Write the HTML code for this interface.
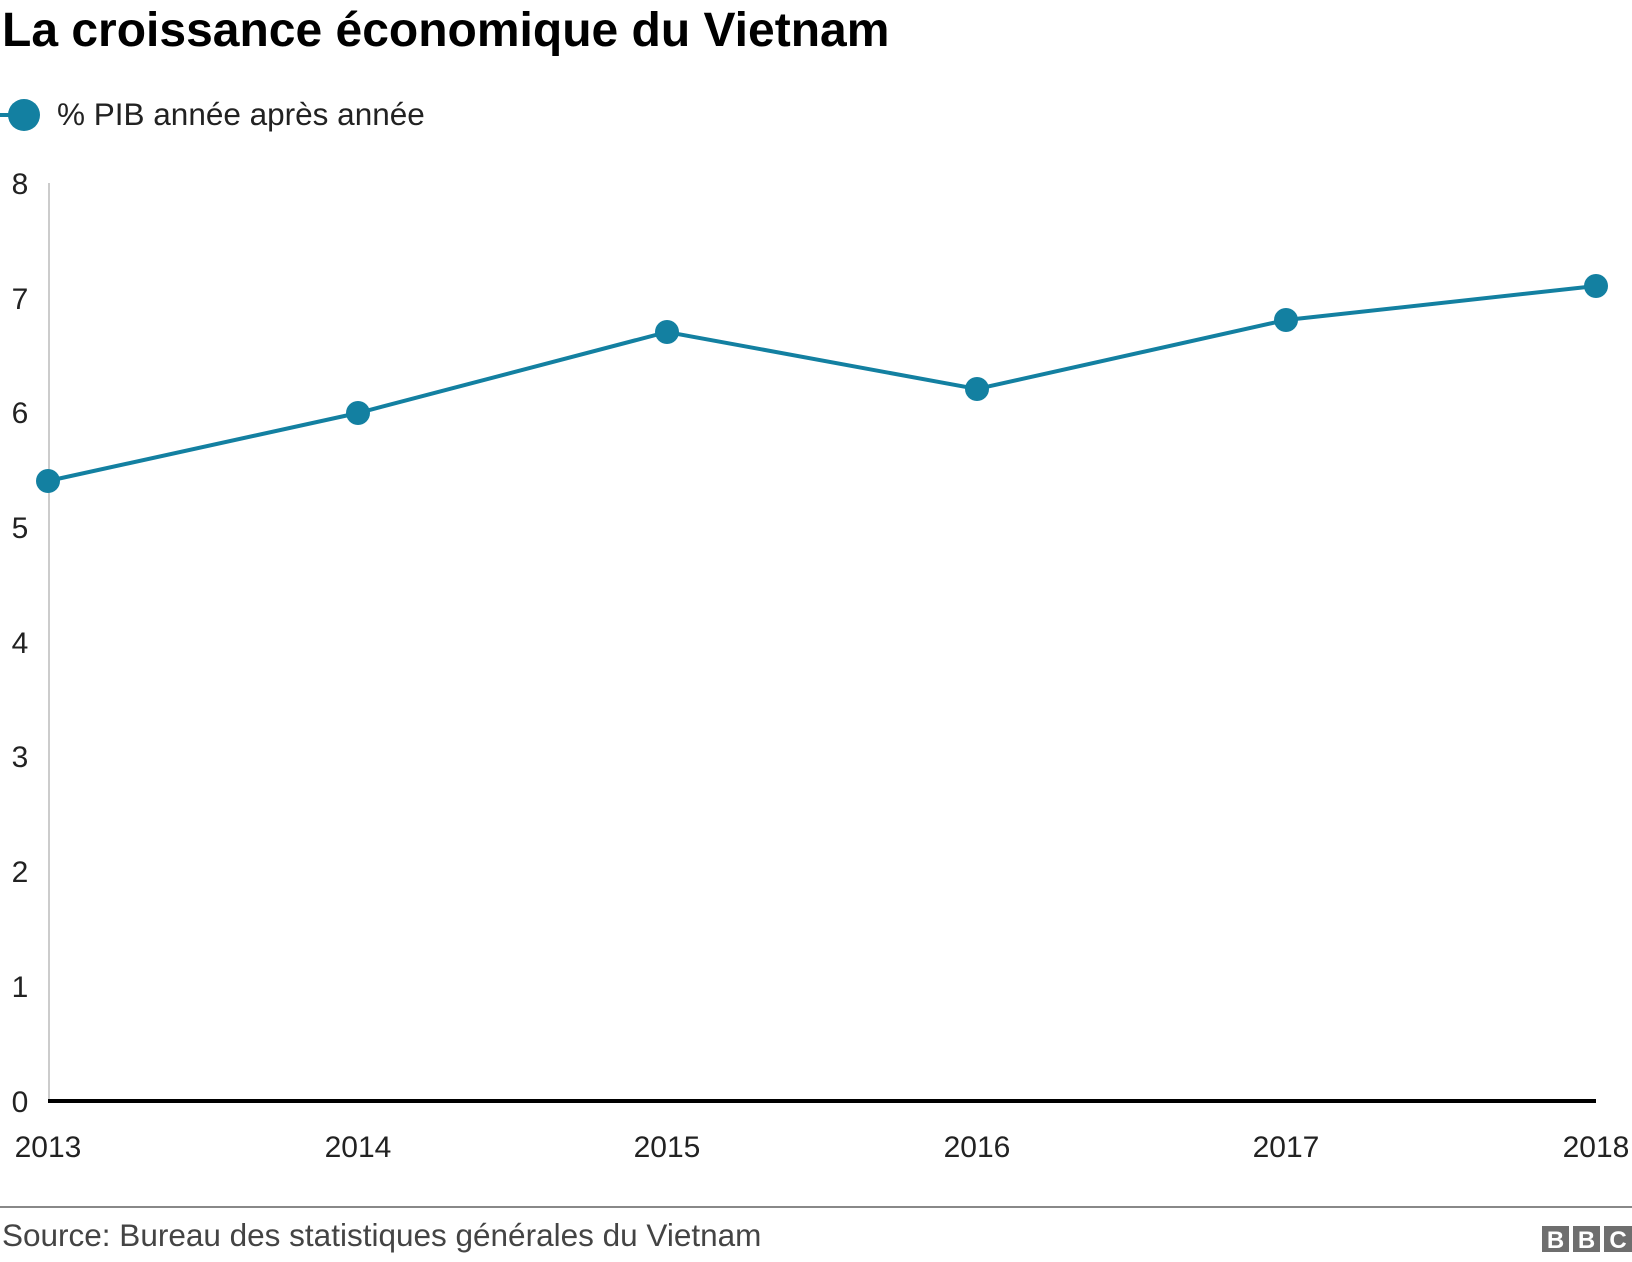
<!DOCTYPE html>
<html><head><meta charset="utf-8"><style>
body{margin:0;background:#fff;}
svg{display:block;font-family:"Liberation Sans",Arial,sans-serif;}
</style></head><body>
<svg width="1632" height="1262" viewBox="0 0 1632 1262">
<text x="2" y="46" font-size="48" font-weight="bold" fill="#000">La croissance économique du Vietnam</text>
<line x1="0" y1="115" x2="20" y2="115" stroke="#1380A1" stroke-width="4"/>
<circle cx="24" cy="115" r="16" fill="#1380A1"/>
<text x="57" y="125" font-size="31.5" fill="#222">% PIB année après année</text>
<line x1="49" y1="183" x2="49" y2="1101" stroke="#ccc" stroke-width="2"/>
<g font-size="30" fill="#222" text-anchor="middle">
<text x="20" y="194">8</text>
<text x="20" y="309">7</text>
<text x="20" y="423">6</text>
<text x="20" y="538">5</text>
<text x="20" y="653">4</text>
<text x="20" y="767">3</text>
<text x="20" y="882">2</text>
<text x="20" y="997">1</text>
<text x="20" y="1112">0</text>
<text x="48" y="1157">2013</text>
<text x="358" y="1157">2014</text>
<text x="667" y="1157">2015</text>
<text x="977" y="1157">2016</text>
<text x="1286" y="1157">2017</text>
<text x="1596" y="1157">2018</text>
</g>
<line x1="48" y1="1101" x2="1596" y2="1101" stroke="#000" stroke-width="4"/>
<polyline fill="none" stroke="#1380A1" stroke-width="4" points="48,481 358,413 667,332 977,389 1286,320 1596,286"/>
<g fill="#1380A1">
<circle cx="48" cy="481" r="12"/><circle cx="358" cy="413" r="12"/><circle cx="667" cy="332" r="12"/>
<circle cx="977" cy="389" r="12"/><circle cx="1286" cy="320" r="12"/><circle cx="1596" cy="286" r="12"/>
</g>
<line x1="0" y1="1207" x2="1632" y2="1207" stroke="#888" stroke-width="2"/>
<text x="2" y="1246" font-size="31.5" fill="#444">Source: Bureau des statistiques générales du Vietnam</text>
<g fill="#6e6e6e"><rect x="1542" y="1226" width="27" height="26"/><rect x="1573" y="1226" width="27" height="26"/><rect x="1604" y="1226" width="28" height="26"/></g>
<g fill="#fff" font-size="24" font-weight="bold" text-anchor="middle"><text x="1555.5" y="1248">B</text><text x="1586.5" y="1248">B</text><text x="1618" y="1248">C</text></g>
</svg>
</body></html>
